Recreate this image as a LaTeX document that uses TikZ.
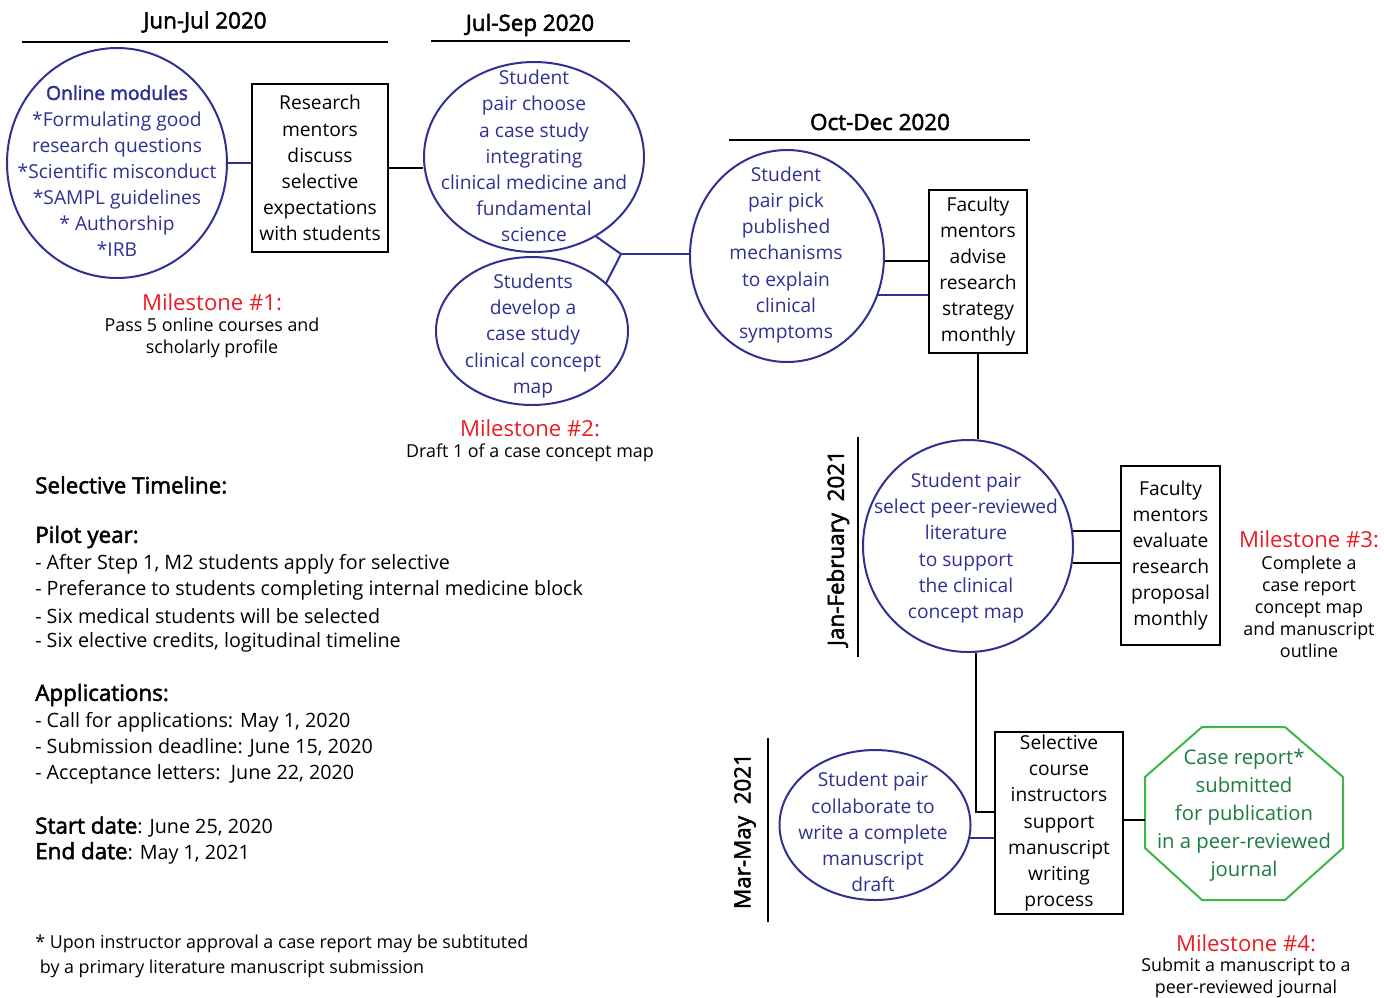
\documentclass[tikz,border=0pt]{standalone}
\usepackage{fontspec}
\setmainfont{Open Sans}
\newfontfamily\semib{Open Sans}[FakeBold=2.2]
\usetikzlibrary{shapes.geometric}

\definecolor{stageblue}{HTML}{2E3192}
\definecolor{milered}{HTML}{ED1C24}
\definecolor{octgreen}{HTML}{3DB54A}
\definecolor{octtext}{HTML}{1E7B40}

\newcommand{\bodyfont}{\fontsize{14.4}{19.6}\selectfont}
\newcommand{\listfont}{\fontsize{14.8}{19.6}\selectfont}
\newcommand{\notefont}{\fontsize{13.4}{16.5}\selectfont}
\newcommand{\headfont}{\fontsize{16.8}{20}\selectfont\semib}
\newcommand{\milefont}{\fontsize{16.6}{20}\selectfont}

\tikzset{
  stage/.style={draw=stageblue, ellipse, line width=1.5pt, inner sep=0pt},
  stagetext/.style={text=stageblue, align=center, inner sep=0pt},
  mentorbox/.style={draw, line width=1.5pt, align=center, inner sep=0pt},
  milestone/.style={text=milered, font=\milefont, inner sep=0pt},
  milenote/.style={align=center, font=\notefont, inner sep=0pt},
  period/.style={font=\headfont, inner sep=0pt},
  info/.style={anchor=west, inner sep=0pt, font=\listfont},
  link/.style={line width=1.5pt}
}

\begin{document}
\begin{tikzpicture}[x=0.75pt, y=-0.75pt, font=\bodyfont]
    \useasboundingbox (0,0) rectangle (1384,997);

    % Period headers
    \node[period] (jun) at (205,22) {Jun-Jul 2020};
    \node[period] (jul) at (530,25) {Jul-Sep 2020};
    \node[period] (oct) at (880,122) {Oct-Dec 2020};
    \draw[link] (22,42) -- (388,42);
    \draw[link] (431,41) -- (630,41);
    \draw[link] (729,140) -- (1030,140);
    \node[period, rotate=90] (janfeb) at (838,548) {Jan-February\ \ 2021};
    \node[period, rotate=90] (marmay) at (745,831) {Mar-May\ \ 2021};
    \draw[link] (858,437) -- (858,657);
    \draw[link] (768,738) -- (768,922);

    % Jun-Jul 2020
    \node[stage, minimum width=165pt, minimum height=172.5pt] (modules) at (117,163) {};
    \node[stagetext] (modulestext) at (117,171) {{\semib Online modules}\\*Formulating good\\research questions\\*Scientific misconduct\\*SAMPL guidelines\\* Authorship\\*IRB};
    \node[mentorbox, minimum width=102pt, minimum height=126pt] (discuss) at (320,168) {Research\\mentors\\discuss\\selective\\expectations\\with students};
    \node[milestone] (mile1) at (212,302) {Milestone \#1:};
    \node[milenote] (mile1note) at (212,338) {Pass 5 online courses and\\scholarly profile};

    % Jul-Sep 2020
    \node[stage, minimum width=165pt, minimum height=142.5pt] (choose) at (534,157) {};
    \node[stagetext] (choosetext) at (534,156) {Student\\pair choose\\a case study\\integrating\\clinical medicine and\\fundamental\\science};
    \node[stage, minimum width=144pt, minimum height=111pt] (develop) at (532,331) {};
    \node[stagetext] (developtext) at (533,336) {Students\\develop a\\case study\\clinical concept\\map};
    \coordinate (fork) at (621,254);
    \node[milestone] (mile2) at (530,428) {Milestone \#2:};
    \node[milenote] (mile2note) at (530,453) {Draft 1 of a case concept map};

    % Oct-Dec 2020
    \node[stage, minimum width=145.5pt, minimum height=159pt] (pick) at (787,256) {};
    \node[stagetext] (picktext) at (786,255) {Student\\pair pick\\published\\mechanisms\\to explain\\clinical\\symptoms};
    \node[mentorbox, minimum width=73.5pt, minimum height=122.25pt] (advise) at (978,271.5) {Faculty\\mentors\\advise\\research\\strategy\\monthly};

    % Jan-February 2021
    \node[stage, minimum width=157.5pt, minimum height=159pt] (select) at (968,546) {};
    \node[stagetext] (selecttext) at (966,548) {Student pair\\select peer-reviewed\\literature\\to support\\the clinical\\concept map};
    \node[mentorbox, minimum width=74.25pt, minimum height=134.25pt] (evaluate) at (1170.5,555.5) {Faculty\\mentors\\evaluate\\research\\proposal\\monthly};
    \node[milestone] (mile3) at (1309,539) {Milestone \#3:};
    \node[milenote] (mile3note) at (1309,607) {Complete a\\case report\\concept map\\and manuscript\\outline};

    % Mar-May 2021
    \node[stage, minimum width=143.25pt, minimum height=112.5pt] (write) at (875,825) {};
    \node[stagetext] (writetext) at (873,832) {Student pair\\collaborate to\\write a complete\\manuscript\\draft};
    \node[mentorbox, minimum width=96pt, minimum height=136.5pt] (support) at (1059,823) {Selective\\course\\instructors\\support\\manuscript\\writing\\process};
    \node[text=octtext, align=center, inner sep=0pt, font=\fontsize{15.2}{21}\selectfont] (report) at (1244,815) {Case report*\\submitted\\for publication\\in a peer-reviewed\\journal};
    \draw[octgreen, line width=1.5pt] (1202,727) -- (1285,727) -- (1343,777) -- (1343,848) -- (1285,900) -- (1202,900) -- (1145,848) -- (1145,777) -- cycle;
    \coordinate (reportin) at (1145,820);
    \node[milestone] (mile4) at (1246,943) {Milestone \#4:};
    \node[milenote] (mile4note) at (1246,978) {Submit a manuscript to a\\peer-reviewed journal};

    % Connectors
    \draw[link, stageblue] (modules.east) -- (modules.east -| discuss.west);
    \draw[link] (discuss.east) -- (discuss.east -| choose.west);
    \draw[link, stageblue] (choose.-52) -- (fork) -- (develop.33);
    \draw[link, stageblue] (fork) -- (fork -| pick.west);
    \draw[link] (pick.-3) -- (pick.-3 -| advise.west);
    \draw[link, stageblue] (pick.-23) -- (pick.-23 -| advise.west);
    \draw[link] (advise.south) -- (advise.south |- select.north);
    \draw[link] (select.8) -- (select.8 -| evaluate.west);
    \draw[link] (select.-9) -- (select.-9 -| evaluate.west);
    \coordinate (drop) at (976,812);
    \draw[link] (drop |- select.south) -- (drop) -- (drop -| support.west);
    \draw[link, stageblue] (write.-8.5) -- (write.-8.5 -| support.west);
    \draw[link] (support.east |- reportin) -- (reportin);

    % Selective timeline
    \node[info, font=\headfont] (timeline) at (35,485) {Selective Timeline:};
    \node[info, font=\headfont] (pilot) at (35,537) {Pilot year:};
    \node[info] (pilot1) at (35,564) {- After Step 1, M2 students apply for selective};
    \node[info] (pilot2) at (35,590) {- Preferance to students completing internal medicine block};
    \node[info] (pilot3) at (35,616) {- Six medical students will be selected};
    \node[info] (pilot4) at (35,642) {- Six elective credits, logitudinal timeline};
    \node[info, font=\headfont] (apply) at (35,695) {Applications:};
    \node[info] (apply1) at (35,722) {- Call for applications: May 1, 2020};
    \node[info] (apply2) at (35,748) {- Submission deadline: June 15, 2020};
    \node[info] (apply3) at (35,774) {- Acceptance letters:\ \ June 22, 2020};
    \node[info] (start) at (35,827) {{\headfont Start date}: June 25, 2020};
    \node[info] (end) at (35,853) {{\headfont End date}: May 1, 2021};
    \node[info, font=\notefont] (foot1) at (35,944) {* Upon instructor approval a case report may be subtituted};
    \node[info, font=\notefont] (foot2) at (35,969) {\ by a primary literature manuscript submission};
\end{tikzpicture}
\end{document}
